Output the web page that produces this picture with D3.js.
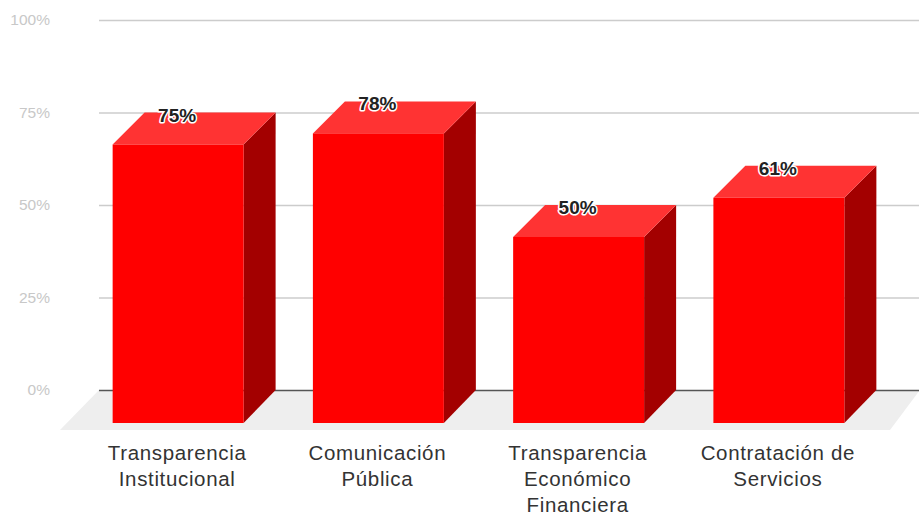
<!DOCTYPE html>
<html>
<head>
<meta charset="utf-8">
<script src="https://cdnjs.cloudflare.com/ajax/libs/d3/7.8.5/d3.min.js"></script>
<style>
	html, body { margin: 0; padding: 0; background: #fff; }
	svg { display: block; }
	text { font-family: "Liberation Sans", Arial, sans-serif; }
</style>
</head>
<body>
<div id="chart"></div>
<script>
var categories = [
	"Transparencia Institucional",
	"Comunicación Pública",
	"Transparencia Económico Financiera",
	"Contratación de Servicios"
];
var categoryLines = [
	["Transparencia", "Institucional"],
	["Comunicación", "Pública"],
	["Transparencia", "Económico", "Financiera"],
	["Contratación de", "Servicios"]
];
var values = [75, 78, 50, 60.6];
var tickValues = [0, 25, 50, 75, 100];

var width = 919, height = 516;
var depth = 32; // how far the back of each bar sits from the front

var svg = d3.select("#chart").append("svg")
	.attr("width", width)
	.attr("height", height);

var x = d3.scaleBand()
	.domain(categories)
	.range([78, 879])
	.paddingInner(0.346)
	.paddingOuter(0.173);

var y = d3.scaleLinear()
	.domain([0, 100])
	.range([390, 20]);

// floor
svg.append("polygon")
	.attr("points", [[99, y(0)], [width + 1, y(0)], [890, y(0) + 40], [60, y(0) + 40]].join(" "))
	.attr("fill", "#eeeeee");

// grid and tick labels
var yAxis = d3.axisLeft(y)
	.tickValues(tickValues)
	.tickSize(-(width - 99))
	.tickPadding(49)
	.tickFormat(function(d) { return d + "%"; });

var gridGroup = svg.append("g")
	.attr("transform", "translate(99,0)")
	.call(yAxis);

gridGroup.select(".domain").remove();
gridGroup.selectAll("line")
	.attr("stroke", function(d) { return d === 0 ? "#555555" : "#cccccc"; })
	.attr("stroke-width", 1.4);
gridGroup.selectAll("text")
	.attr("fill", "#c8c8c8")
	.attr("font-size", 15.5)
	.style("font-family", "'Liberation Sans', Arial, sans-serif");

// bars
var bars = svg.selectAll("g.bar")
	.data(categories)
	.enter().append("g")
	.attr("class", "bar");

function barValue(i) { return values[i]; }

bars.append("polygon") // side
	.attr("fill", "#a30000")
	.attr("points", function(d, i) {
		var r = x(d) + x.bandwidth();
		var top = y(barValue(i));
		return [[r, top + depth], [r + depth, top], [r + depth, y(0)], [r, y(0) + depth + 1]].join(" ");
	});

bars.append("polygon") // top
	.attr("fill", "#ff3333")
	.attr("points", function(d, i) {
		var l = x(d), r = l + x.bandwidth();
		var top = y(barValue(i));
		return [[l, top + depth], [l + depth, top], [r + depth, top], [r, top + depth]].join(" ");
	});

bars.append("rect") // front
	.attr("fill", "#ff0000")
	.attr("x", function(d) { return x(d); })
	.attr("width", x.bandwidth())
	.attr("y", function(d, i) { return y(barValue(i)) + depth; })
	.attr("height", function(d, i) { return y(0) + depth + 1 - (y(barValue(i)) + depth); });

// value labels
bars.append("text")
	.attr("x", function(d) { return x(d) + x.bandwidth() / 2 - 1; })
	.attr("y", function(d, i) { return y(barValue(i)) + 9; })
	.attr("text-anchor", "middle")
	.attr("font-size", 19)
	.attr("font-weight", "bold")
	.attr("fill", "#222222")
	.attr("stroke", "#ffffff")
	.attr("stroke-width", 3)
	.attr("stroke-linejoin", "round")
	.attr("paint-order", "stroke")
	.text(function(d, i) { return Math.round(barValue(i)) + "%"; });

// category labels
var catLabels = svg.selectAll("text.cat")
	.data(categories)
	.enter().append("text")
	.attr("class", "cat")
	.attr("text-anchor", "middle")
	.attr("fill", "#333333")
	.attr("font-size", 20.5)
	.attr("letter-spacing", 0.65);

catLabels.selectAll("tspan")
	.data(function(d, i) {
		return categoryLines[i].map(function(line) { return { line: line, cat: d }; });
	})
	.enter().append("tspan")
	.attr("x", function(d) { return x(d.cat) + x.bandwidth() / 2 - 1; })
	.attr("y", function(d, i) { return 460 + i * 25.8; })
	.text(function(d) { return d.line; });
</script>
</body>
</html>
